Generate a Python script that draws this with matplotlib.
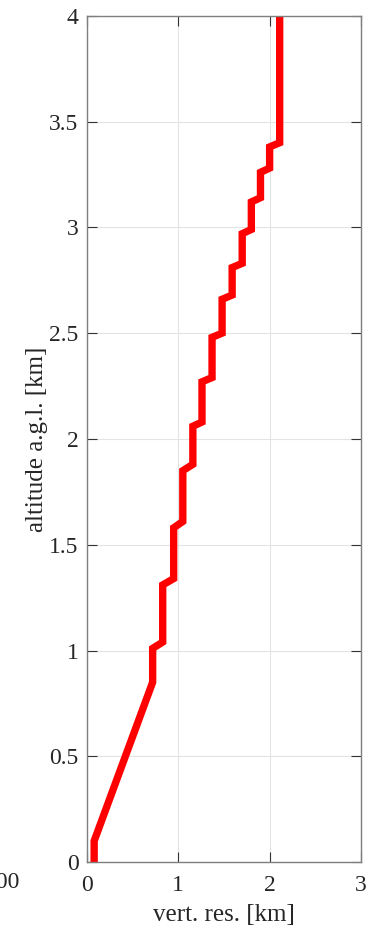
import matplotlib
matplotlib.use("Agg")
import matplotlib.pyplot as plt

# resolution profile (vertical resolution vs altitude), km
altitude = [0.0, 0.10, 0.85, 1.01, 1.04, 1.31, 1.34, 1.58, 1.61, 1.85, 1.88,
            2.06, 2.08, 2.27, 2.29, 2.48, 2.50, 2.66, 2.68, 2.81, 2.83,
            2.97, 2.99, 3.12, 3.14, 3.26, 3.28, 3.38, 3.40, 4.0]
vert_res = [0.08, 0.08, 0.72, 0.72, 0.83, 0.83, 0.95, 0.95, 1.05, 1.05, 1.16,
            1.16, 1.26, 1.26, 1.37, 1.37, 1.48, 1.48, 1.59, 1.59, 1.70,
            1.70, 1.80, 1.80, 1.90, 1.90, 2.00, 2.00, 2.11, 2.11]

xticks = [0, 1, 2, 3]
yticks = [0, 0.5, 1, 1.5, 2, 2.5, 3, 3.5, 4]
ytick_labels = ["0", "0.5", "1", "1.5", "2", "2.5", "3", "3.5", "4"]

plt.rcParams["font.family"] = ["Liberation Serif", "DejaVu Serif"]

fig = plt.figure(figsize=(3.68, 9.27), dpi=100)
ax = fig.add_axes([0.236, 0.070, 0.745, 0.913])

ax.plot(vert_res, altitude, color="#ff0000", linewidth=5.3, solid_capstyle="butt",
        solid_joinstyle="miter")

ax.set_xlim(0, 3)
ax.set_ylim(0, 4)
ax.set_xticks(xticks)
ax.set_yticks(yticks)
ax.set_yticklabels(ytick_labels)
ax.grid(True, color="#e3e3e3", linewidth=0.8)
ax.set_axisbelow(True)

for s in ax.spines.values():
    s.set_color("#7f7f7f")
    s.set_linewidth(1.0)
ax.tick_params(direction="in", length=7, width=0.8, color="#333333",
               top=True, right=True, labelsize=17, labelcolor="#262626")
ax.tick_params(axis="x", pad=9)
ax.tick_params(axis="y", pad=6)

ax.set_xlabel("vert. res. [km]", fontsize=18, color="#262626", labelpad=6)
ax.set_ylabel("altitude a.g.l. [km]", fontsize=18, color="#262626", labelpad=1)

# tail of the neighbouring panel's tick label
fig.text(20 / 368, 1 - 882 / 927, "100", fontsize=17, color="#262626",
         ha="right", va="center")

fig.savefig("out.png", dpi=100)
